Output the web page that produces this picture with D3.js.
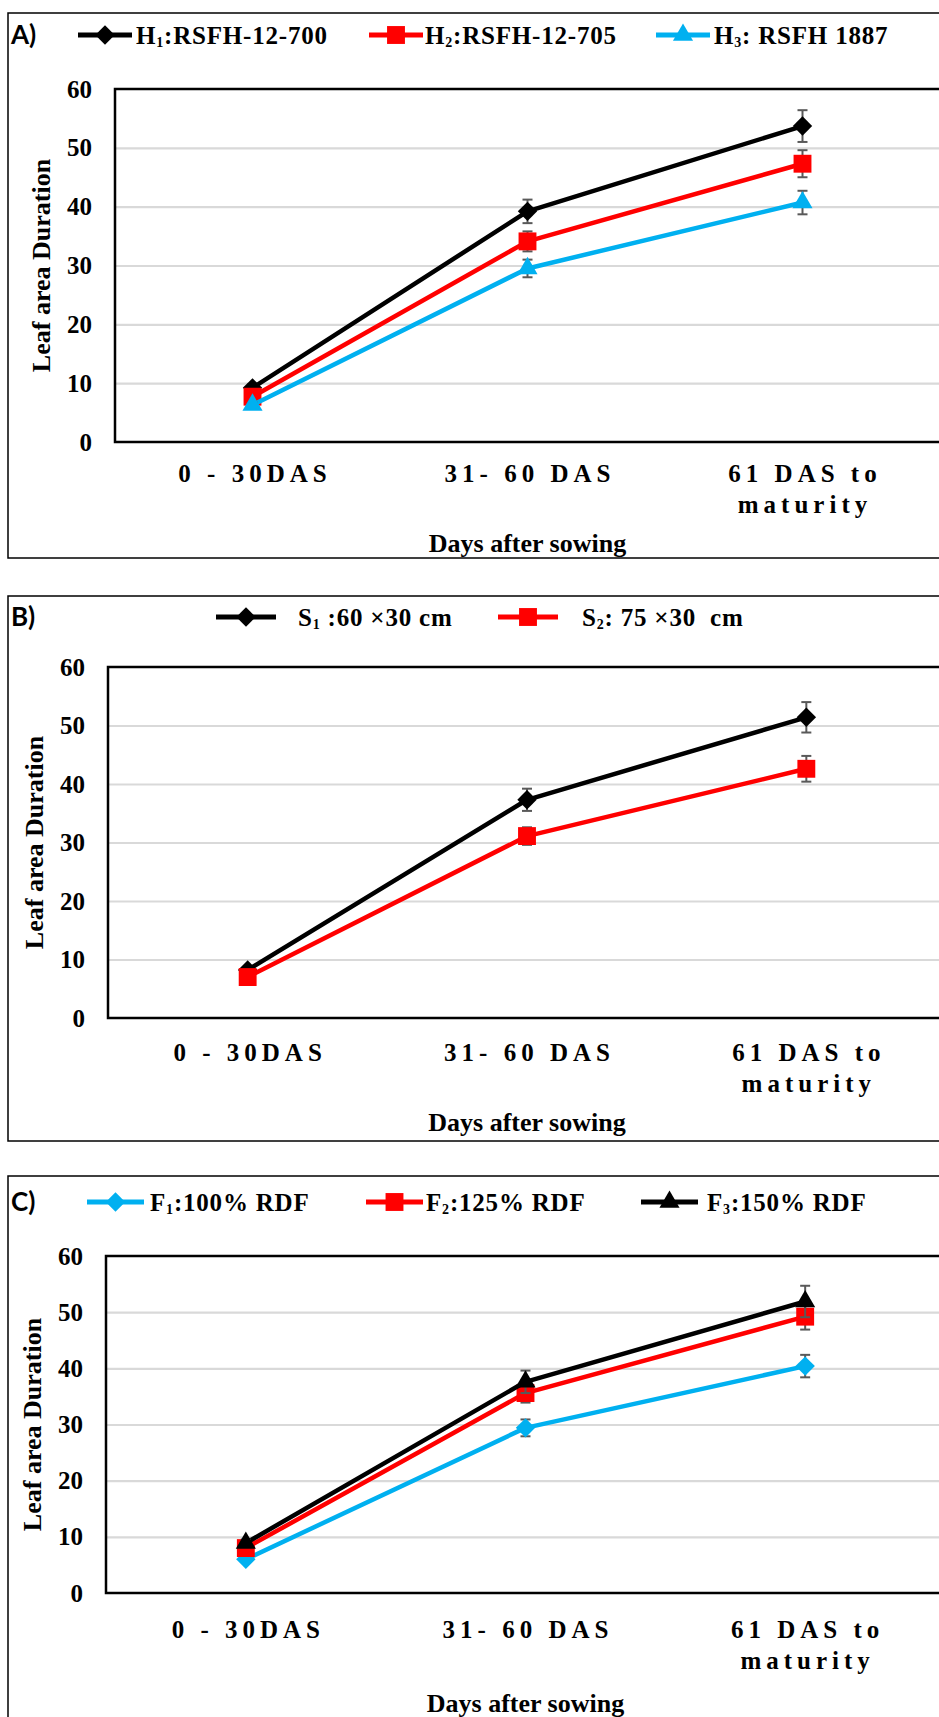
<!DOCTYPE html>
<html>
<head>
<meta charset="utf-8">
<script src="https://cdn.jsdelivr.net/npm/d3@7"></script>
<style>
  body { margin: 0; background: #fff; }
  svg { display: block; }
  text { white-space: pre; }
</style>
</head>
<body>
<svg id="chart" width="939" height="1717"></svg>
<script>
// x categories ("|" splits a label over two lines)
const categories = ["0 - 30DAS", "31- 60 DAS", "61 DAS to|maturity"];
const yTicks = [0, 10, 20, 30, 40, 50, 60];

// A) hybrids
const hybridLabels = [["H", "1", ":RSFH-12-700"], ["H", "2", ":RSFH-12-705"], ["H", "3", ": RSFH 1887"]];
const hybridValues = [[9.2, 39.2, 53.7], [7.7, 34.1, 47.3], [6.3, 29.5, 40.7]];
const hybridErrors = [[0.6, 2.0, 2.7], [0.5, 1.7, 2.3], [0.4, 1.5, 2.0]];

// B) spacing
const spacingLabels = [["S", "1", " :60 ×30 cm"], ["S", "2", ": 75 ×30  cm"]];
const spacingValues = [[8.2, 37.3, 51.4], [7.0, 31.1, 42.6]];
const spacingErrors = [[0.5, 1.9, 2.6], [0.4, 1.5, 2.2]];

// C) fertiliser
const fertLabels = [["F", "1", ":100% RDF"], ["F", "2", ":125% RDF"], ["F", "3", ":150% RDF"]];
const fertValues = [[6.0, 29.4, 40.4], [8.0, 35.6, 49.2], [8.9, 37.6, 51.9]];
const fertErrors = [[0.4, 1.5, 2.0], [0.5, 1.7, 2.3], [0.6, 2.0, 2.8]];

const BLACK = "#000000", RED = "#ff0000", BLUE = "#00b0f0";
const serif = '"Liberation Serif", "Times New Roman", serif';

const svg = d3.select("#chart");

// symbols, sized like the excel markers
const symbols = {
  diamond: d3.symbol().type(d3.symbolDiamond2).size(240),
  square: d3.symbol().type(d3.symbolSquare).size(320),
  triangle: d3.symbol().type(d3.symbolTriangle).size(175)
};

function drawPanel(cfg) {
  const g = svg.append("g");

  // outer box (right / bottom edges run off the picture)
  g.append("rect")
    .attr("x", 8).attr("y", cfg.top)
    .attr("width", 980).attr("height", cfg.bottom - cfg.top)
    .attr("fill", "none").attr("stroke", "#000").attr("stroke-width", 1.5);

  // panel letter
  g.append("text")
    .attr("x", 11).attr("y", cfg.legendY).attr("dy", "0.36em")
    .style("font-family", "Lato, 'Open Sans', sans-serif")
    .style("font-weight", "bold")
    .style("font-size", "26px")
    .text(cfg.letter);

  const x = d3.scalePoint().domain(categories).range([cfg.left, cfg.right]).padding(0.5);
  const y = d3.scaleLinear().domain([0, 60]).range([cfg.plotBottom, cfg.plotTop]);

  // gridlines
  g.append("g")
    .attr("transform", `translate(${cfg.left},0)`)
    .call(d3.axisLeft(y).tickValues(yTicks.slice(1, -1)).tickSize(-(cfg.right - cfg.left + 20)).tickFormat(""))
    .call(a => a.select(".domain").remove())
    .selectAll("line").attr("stroke", "#d9d9d9").attr("stroke-width", 2.2);

  // plot frame
  g.append("path")
    .attr("d", `M${cfg.right + 20},${y(60)}H${cfg.left}V${y(0)}H${cfg.right + 20}`)
    .attr("fill", "none").attr("stroke", "#000").attr("stroke-width", 2.5);

  // y tick labels
  g.append("g")
    .attr("transform", `translate(${cfg.left},0)`)
    .call(d3.axisLeft(y).tickValues(yTicks).tickSize(0).tickPadding(23))
    .call(a => a.select(".domain").remove())
    .selectAll("text")
    .attr("fill", "#000")
    .style("font-family", serif).style("font-weight", "bold").style("font-size", "25px");

  // y title
  g.append("text")
    .attr("transform", `translate(${cfg.left - 74},${(y(0) + y(60)) / 2}) rotate(-90)`)
    .attr("text-anchor", "middle").attr("dy", "0.35em")
    .style("font-family", serif).style("font-weight", "bold").style("font-size", "26px")
    .text("Leaf area Duration");

  // x tick labels
  const xl = g.append("g").selectAll("text")
    .data(categories)
    .join("text")
    .attr("x", d => x(d))
    .attr("y", y(0) + cfg.xLabelOffset)
    .attr("text-anchor", "middle")
    .style("font-family", serif).style("font-weight", "bold").style("font-size", "25px")
    .style("letter-spacing", "5px");
  xl.selectAll("tspan")
    .data(d => d.split("|").map(t => ({ t, c: d })))
    .join("tspan")
    .attr("x", d => x(d.c) + 2.5)
    .attr("dy", (d, i) => i === 0 ? "0.35em" : "31px")
    .text(d => d.t);

  // x title
  g.append("text")
    .attr("x", x(categories[1])).attr("y", cfg.xTitleY).attr("dy", "0.35em")
    .attr("text-anchor", "middle")
    .style("font-family", serif).style("font-weight", "bold").style("font-size", "26px")
    .text("Days after sowing");

  // series
  const series = cfg.values.map((vals, i) => ({
    color: cfg.colors[i],
    symbol: cfg.symbols[i],
    points: vals.map((v, j) => ({ c: categories[j], v, e: cfg.errors[i][j] }))
  }));

  const line = d3.line().x(d => x(d.c)).y(d => y(d.v));

  const sg = g.append("g").selectAll("g").data(series).join("g");

  sg.append("path")
    .attr("d", d => line(d.points))
    .attr("fill", "none").attr("stroke", d => d.color)
    .attr("stroke-width", 4.5).attr("stroke-linejoin", "round");

  // error bars
  sg.each(function (s) {
    const eg = d3.select(this).append("g").attr("stroke", "#595959").attr("stroke-width", 2);
    s.points.forEach(p => {
      const cx = x(p.c);
      eg.append("line").attr("x1", cx).attr("x2", cx).attr("y1", y(p.v - p.e)).attr("y2", y(p.v + p.e));
      eg.append("line").attr("x1", cx - 5).attr("x2", cx + 5).attr("y1", y(p.v + p.e)).attr("y2", y(p.v + p.e));
      eg.append("line").attr("x1", cx - 5).attr("x2", cx + 5).attr("y1", y(p.v - p.e)).attr("y2", y(p.v - p.e));
    });
  });

  sg.selectAll(".mk")
    .data(s => s.points.map(p => ({ ...p, color: s.color, symbol: s.symbol })))
    .join("path")
    .attr("class", "mk")
    .attr("transform", d => `translate(${x(d.c)},${y(d.v)})`)
    .attr("d", d => symbols[d.symbol]())
    .attr("fill", d => d.color);

  // legend
  const lg = g.append("g").selectAll("g")
    .data(cfg.labels)
    .join("g");
  lg.append("line")
    .attr("x1", (d, i) => cfg.legendX[i]).attr("x2", (d, i) => cfg.legendX[i] + cfg.legendLen)
    .attr("y1", cfg.legendY).attr("y2", cfg.legendY)
    .attr("stroke", (d, i) => cfg.colors[i]).attr("stroke-width", 5);
  lg.append("path")
    .attr("transform", (d, i) => `translate(${cfg.legendX[i] + cfg.legendLen / 2},${cfg.legendY})`)
    .attr("d", (d, i) => symbols[cfg.symbols[i]]())
    .attr("fill", (d, i) => cfg.colors[i]);
  const lt = lg.append("text")
    .attr("x", (d, i) => cfg.legendTextX[i])
    .attr("y", cfg.legendY).attr("dy", "0.35em")
    .style("font-family", serif).style("font-weight", "bold").style("font-size", "25px")
    .style("letter-spacing", "0.8px");
  lt.append("tspan").text(d => d[0]);
  lt.append("tspan").style("font-size", "14px").attr("dy", "3").text(d => d[1]);
  lt.append("tspan").attr("dy", "-3").text(d => d[2]);
}

drawPanel({
  letter: "A)", top: 13, bottom: 558,
  left: 115, right: 940, plotTop: 89, plotBottom: 442,
  xLabelOffset: 31, xTitleY: 543,
  legendY: 35, legendX: [78, 369, 656], legendLen: 54, legendTextX: [136, 425, 714],
  labels: hybridLabels, values: hybridValues, errors: hybridErrors,
  colors: [BLACK, RED, BLUE], symbols: ["diamond", "square", "triangle"]
});

drawPanel({
  letter: "B)", top: 596, bottom: 1141,
  left: 108, right: 946, plotTop: 667, plotBottom: 1018,
  xLabelOffset: 34, xTitleY: 1122,
  legendY: 617, legendX: [216, 498], legendLen: 60, legendTextX: [298, 582],
  labels: spacingLabels, values: spacingValues, errors: spacingErrors,
  colors: [BLACK, RED], symbols: ["diamond", "square"]
});

drawPanel({
  letter: "C)", top: 1176, bottom: 1740,
  left: 106, right: 945, plotTop: 1256, plotBottom: 1593,
  xLabelOffset: 36, xTitleY: 1703,
  legendY: 1202, legendX: [87, 366, 641], legendLen: 57, legendTextX: [150, 426, 707],
  labels: fertLabels, values: fertValues, errors: fertErrors,
  colors: [BLUE, RED, BLACK], symbols: ["diamond", "square", "triangle"]
});
</script>
</body>
</html>
